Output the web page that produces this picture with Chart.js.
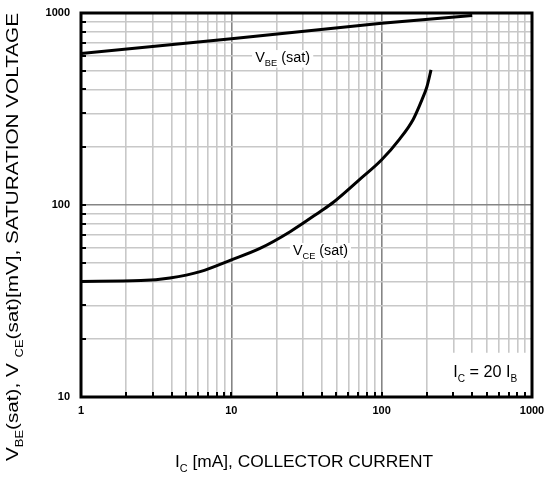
<!DOCTYPE html>
<html>
<head>
<meta charset="utf-8">
<script src="https://cdn.jsdelivr.net/npm/chart.js@4.4.0/dist/chart.umd.min.js"></script>
<style>
  html, body { margin: 0; padding: 0; background: #fff; }
</style>
</head>
<body>
<canvas id="sat-chart" width="547" height="477"></canvas>
<script>
const FONT = '"Liberation Sans", Arial, sans-serif';

// log grid lines / tick marks
const currentTicks = [1, 2, 3, 4, 5, 6, 7, 8, 9, 10, 20, 30, 40, 50, 60, 70, 80, 90,
  100, 200, 300, 400, 500, 600, 700, 800, 900, 1000];
const currentLabels = [1, 10, 100, 1000];
const voltageTicks = [10, 20, 30, 40, 50, 60, 70, 80, 90, 100, 200, 300, 400, 500,
  600, 700, 800, 900, 1000];
const voltageLabels = [10, 100, 1000];

// V_BE(sat) curve, mA -> mV
const vbeCurrent = [1, 10, 100, 400];
const vbeVoltage = [615, 735, 885, 970];

// V_CE(sat) curve, mA -> mV
const vceCurrent = [1, 2.5, 3.9, 6.2, 10, 15.5, 24.6, 38.9, 47.5, 70, 100, 132, 162, 185, 200, 213];
const vceVoltage = [40, 40.4, 41.7, 45, 51.8, 59.4, 72.6, 92.3, 103, 134, 172, 221, 279, 352, 413, 505];

function toPoints(xs, ys) {
  return xs.map((v, i) => ({ x: v, y: ys[i] }));
}

function isMajor(v) {
  return currentLabels.includes(v) || voltageLabels.includes(v);
}

// draw text with subscripts, parts = [[text, isSub], ...]
function drawRich(ctx, parts, x, y, size, opts = {}) {
  const subSize = Math.round(size * 0.62);
  const widths = parts.map(([t, sub]) => {
    ctx.font = `${sub ? subSize : size}px ${FONT}`;
    return ctx.measureText(t).width;
  });
  const total = widths.reduce((a, b) => a + b, 0);
  const sx = opts.fitWidth ? opts.fitWidth / total : 1;
  ctx.save();
  ctx.translate(x, y);
  if (opts.rotate) ctx.rotate(opts.rotate);
  ctx.scale(sx, 1);
  let cx = opts.align === 'center' ? -total / 2 : 0;
  if (opts.bg) {
    ctx.fillStyle = '#fff';
    ctx.fillRect(cx - 3, -size * 0.85, total + 6, size * 1.25);
  }
  ctx.fillStyle = '#000';
  ctx.textAlign = 'left';
  ctx.textBaseline = 'alphabetic';
  parts.forEach(([t, sub], i) => {
    ctx.font = `${sub ? subSize : size}px ${FONT}`;
    ctx.fillText(t, cx, sub ? size * 0.3 : 0);
    cx += widths[i];
  });
  ctx.restore();
}

const noteBox = { fromCurrent: 230, toVoltage: 17 };

const overlay = {
  id: 'overlay',
  beforeDatasetsDraw(chart) {
    const { ctx, chartArea: a, scales: { x, y } } = chart;
    // white patch behind the I_C = 20 I_B note
    const bx = x.getPixelForValue(noteBox.fromCurrent);
    const by = y.getPixelForValue(noteBox.toVoltage);
    ctx.save();
    ctx.fillStyle = '#fff';
    ctx.fillRect(bx, by, a.right - bx, a.bottom - by);
    ctx.restore();
  },
  afterDatasetsDraw(chart) {
    const { ctx, chartArea: a, scales: { x, y } } = chart;
    ctx.save();
    // inner tick marks on left and bottom edges
    ctx.strokeStyle = '#000';
    ctx.lineWidth = 2;
    ctx.beginPath();
    currentTicks.forEach(v => {
      const px = Math.round(x.getPixelForValue(v));
      ctx.moveTo(px, a.bottom);
      ctx.lineTo(px, a.bottom - 5);
    });
    voltageTicks.forEach(v => {
      const py = Math.round(y.getPixelForValue(v));
      ctx.moveTo(a.left, py);
      ctx.lineTo(a.left + 5, py);
    });
    ctx.stroke();
    // frame
    ctx.lineWidth = 3;
    ctx.strokeRect(a.left, a.top, a.right - a.left, a.bottom - a.top);
    ctx.restore();

    // curve labels
    drawRich(ctx, [['V', false], ['BE', true], [' (sat)', false]],
      x.getPixelForValue(14.4), y.getPixelForValue(556), 14, { bg: true, fitWidth: 55 });
    drawRich(ctx, [['V', false], ['CE', true], [' (sat)', false]],
      x.getPixelForValue(25.7), y.getPixelForValue(55), 14, { bg: true, fitWidth: 55 });
    drawRich(ctx, [['I', false], ['C', true], [' = 20 I', false], ['B', true]],
      x.getPixelForValue(299), y.getPixelForValue(12.7), 16, { fitWidth: 64 });

    // axis titles
    drawRich(ctx, [['I', false], ['C', true], [' [mA], COLLECTOR CURRENT', false]],
      304, 467, 16, { align: 'center', fitWidth: 258 });
    drawRich(ctx, [['V', false], ['BE', true], ['(sat), V ', false], ['CE', true],
      ['(sat)[mV], SATURATION VOLTAGE', false]],
      18, 237, 16, { align: 'center', fitWidth: 448, rotate: -Math.PI / 2 });
  }
};

function gridColor(ctx) {
  const v = ctx.tick && ctx.tick.value;
  return isMajor(v) ? '#858585' : '#c8c8c8';
}

// fixed axis sizes, and no extra room for overhanging end labels
function fixSize(prop, size) {
  return scale => {
    scale[prop] = size;
    scale.paddingLeft = 0;
    scale.paddingRight = 0;
    scale.paddingTop = 0;
    scale.paddingBottom = 0;
  };
}

const canvas = document.getElementById('sat-chart');
new Chart(canvas, {
  type: 'line',
  data: {
    datasets: [
      {
        data: toPoints(vbeCurrent, vbeVoltage),
        borderColor: '#000',
        borderWidth: 3,
        pointRadius: 0,
        fill: false,
        tension: 0,
      },
      {
        data: toPoints(vceCurrent, vceVoltage),
        borderColor: '#000',
        borderWidth: 3,
        pointRadius: 0,
        fill: false,
        cubicInterpolationMode: 'monotone',
      },
    ],
  },
  options: {
    responsive: false,
    animation: false,
    layout: { padding: { top: 13, right: 15, left: 0, bottom: 0 } },
    plugins: {
      legend: { display: false },
      tooltip: { enabled: false },
    },
    scales: {
      x: {
        type: 'logarithmic',
        min: 1,
        max: 1000,
        afterBuildTicks: scale => { scale.ticks = currentTicks.map(v => ({ value: v })); },
        afterFit: fixSize('height', 80),
        grid: { color: gridColor, lineWidth: 1.6, drawTicks: false },
        border: { display: false },
        ticks: {
          autoSkip: false,
          maxRotation: 0,
          padding: 7,
          color: '#000',
          font: { size: 11, weight: 'bold', family: FONT },
          callback: v => (currentLabels.includes(v) ? String(v) : ''),
        },
      },
      y: {
        type: 'logarithmic',
        min: 10,
        max: 1000,
        afterBuildTicks: scale => { scale.ticks = voltageTicks.map(v => ({ value: v })); },
        afterFit: fixSize('width', 81),
        grid: { color: gridColor, lineWidth: 1.6, drawTicks: false },
        border: { display: false },
        ticks: {
          autoSkip: false,
          padding: 11,
          color: '#000',
          font: { size: 11, weight: 'bold', family: FONT },
          callback: v => (voltageLabels.includes(v) ? String(v) : ''),
        },
      },
    },
  },
  plugins: [overlay],
});
</script>
</body>
</html>
